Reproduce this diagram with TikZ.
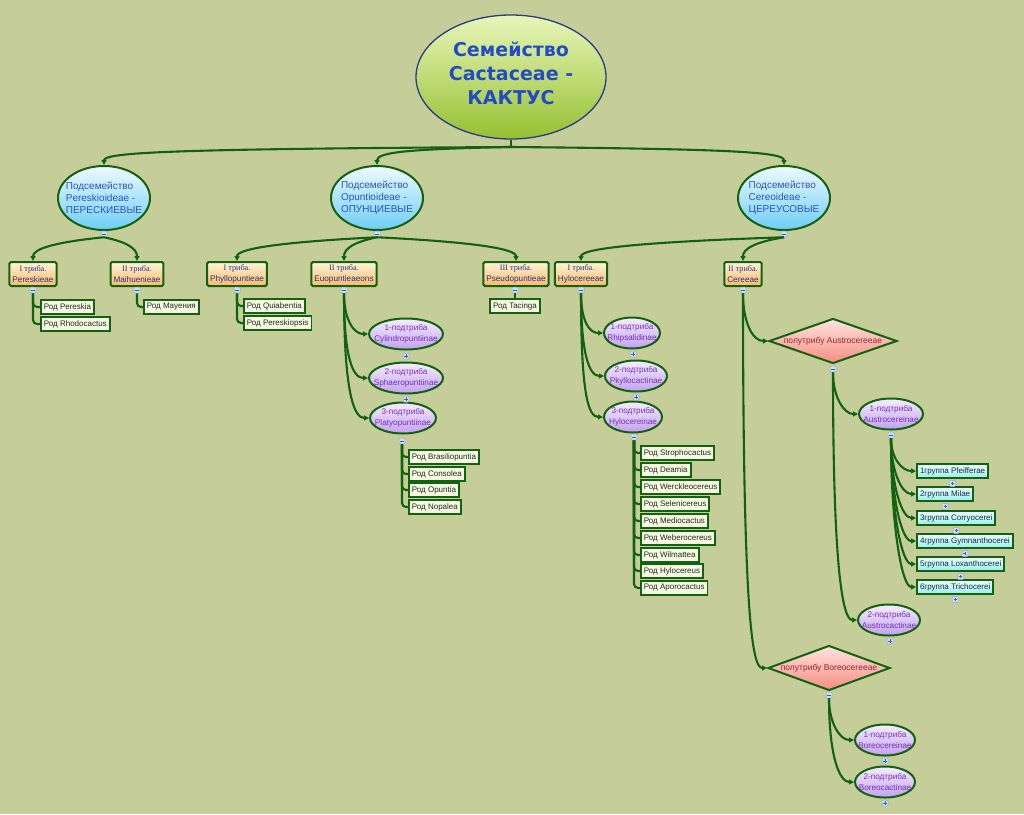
\documentclass[tikz,border=0pt]{standalone}
\usepackage{fontspec}
\setmainfont{Liberation Sans}
\newfontfamily\titlefont{DejaVu Sans}
\newfontfamily\serifL{Liberation Serif}
\usetikzlibrary{shapes.geometric,arrows.meta,calc}
\definecolor{bg}{RGB}{197,206,152}
\definecolor{cg}{RGB}{18,98,18}
\definecolor{rootb}{RGB}{40,60,140}
\definecolor{rootT}{RGB}{232,246,185}
\definecolor{rootB}{RGB}{150,192,50}
\definecolor{titleblue}{RGB}{35,75,195}
\definecolor{sfT}{RGB}{238,250,255}
\definecolor{sfB}{RGB}{110,205,245}
\definecolor{sftext}{RGB}{45,85,185}
\definecolor{trT}{RGB}{255,244,218}
\definecolor{trB}{RGB}{250,185,100}
\definecolor{trtext}{RGB}{40,50,140}
\definecolor{genF}{RGB}{246,250,226}
\definecolor{gentext}{RGB}{35,40,35}
\definecolor{stT}{RGB}{246,238,255}
\definecolor{stB}{RGB}{195,160,240}
\definecolor{sttext}{RGB}{115,50,175}
\definecolor{gT}{RGB}{238,255,255}
\definecolor{gB}{RGB}{150,240,235}
\definecolor{gtext}{RGB}{25,40,70}
\definecolor{dT}{RGB}{255,228,222}
\definecolor{dB}{RGB}{245,140,130}
\definecolor{dtext}{RGB}{150,40,50}
\definecolor{togB}{RGB}{140,170,215}
\definecolor{togF}{RGB}{205,222,245}
\definecolor{togM}{RGB}{70,95,150}
\tikzset{
 every node/.style={inner sep=0pt},
 conn/.style={draw=cg, line width=2.1pt},
 arr/.style={conn, -{Triangle[length=5pt,width=5pt]}},
 lnk/.style={conn, rounded corners=4pt},
 rootn/.style={ellipse, draw=rootb, line width=1.3pt, top color=rootT, bottom color=rootB, minimum width=190pt, minimum height=124pt},
 rootlab/.style={font=\titlefont\bfseries\fontsize{19}{24}\selectfont, text=titleblue, align=center},
 sfam/.style={ellipse, draw=cg, line width=2pt, top color=sfT, bottom color=sfB, minimum width=92pt, minimum height=64pt},
 sflab/.style={font=\fontsize{10}{12}\selectfont, text=sftext, align=left},
 tribe/.style={rectangle, rounded corners=1.5pt, draw=cg, line width=2pt, top color=trT, bottom color=trB, inner xsep=3pt, minimum height=24pt, align=center, font=\fontsize{8.2}{11}\selectfont, text=trtext},
 genus/.style={rectangle, draw=cg, line width=1.8pt, fill=genF, inner xsep=3pt, minimum height=14pt, anchor=west, font=\fontsize{8}{10}\selectfont, text=gentext},
 subtr/.style={ellipse, draw=cg, line width=2pt, top color=stT, bottom color=stB, minimum height=31pt},
 stlab/.style={font=\fontsize{8.2}{10.5}\selectfont, text=sttext, align=center},
 grp/.style={rectangle, draw=cg, line width=2pt, top color=gT, bottom color=gB, inner xsep=3pt, minimum height=14pt, anchor=west, font=\fontsize{8}{10}\selectfont, text=gtext},
 dmd/.style={diamond, draw=cg, line width=2pt, top color=dT, bottom color=dB, minimum height=45pt},
 dlab/.style={font=\fontsize{8.5}{10}\selectfont, text=dtext},
 tog/.style={rectangle, rounded corners=1pt, draw=togB, fill=togF, line width=0.5pt, minimum size=6pt},
 tminus/.style={tog, path picture={\draw[line width=0.6pt, togM] ([xshift=1.4pt]path picture bounding box.west) -- ([xshift=-1.4pt]path picture bounding box.east);}},
 tplus/.style={tog, path picture={\draw[line width=0.6pt, togM] ([xshift=1.4pt]path picture bounding box.west) -- ([xshift=-1.4pt]path picture bounding box.east) ([yshift=-1.4pt]path picture bounding box.north) -- ([yshift=1.4pt]path picture bounding box.south);}},
}
\begin{document}
\begin{tikzpicture}[x=1pt,y=-1pt]
\useasboundingbox (0,0) rectangle (1024,814);
\fill[bg] (0,0) rectangle (1024,814);

% root
\node[rootn, label={[rootlab,yshift=4pt]center:Семейство\\Cactaceae -\\КАКТУС}] (root) at (511,77) {};

% subfamilies
\node[sfam, label={[sflab]center:Подсемейство\\Pereskioideae -\\ПЕРЕСКИЕВЫЕ}] (sf1) at (104,198) {};
\node[sfam, label={[sflab]center:Подсемейство\\Opuntioideae -\\ОПУНЦИЕВЫЕ}] (sf2) at (377,198) {};
\node[sfam, label={[sflab]center:Подсемейство\\Cereoideae -\\ЦЕРЕУСОВЫЕ}] (sf3) at (784,198) {};
\node[tminus] (sf1t) at (104,234) {};
\node[tminus] (sf2t) at (377,234) {};
\node[tminus] (sf3t) at (784,234) {};

% tribes
\node[tribe] (tr1) at (33,274) {{\serifL I триба.}\\Pereskieae};
\node[tribe] (tr2) at (137,274) {{\serifL II триба.}\\Maihuenieae};
\node[tribe] (tr3) at (237,274) {{\serifL I триба.}\\Phyllopuntieae};
\node[tribe] (tr4) at (344,274) {{\serifL II триба.}\\Euopuntieaeons};
\node[tribe] (tr5) at (516,274) {{\serifL III триба.}\\Pseudopuntieae};
\node[tribe] (tr6) at (581,274) {{\serifL I триба.}\\Hylocereeae};
\node[tribe] (tr7) at (743,274) {{\serifL II триба.}\\Cereeae};
\node[tminus] (tr1t) at (33,290) {};
\node[tminus] (tr2t) at (137,290) {};
\node[tminus] (tr3t) at (237,290) {};
\node[tminus] (tr4t) at (344,290) {};
\node[tminus] (tr5t) at (515,290) {};
\node[tminus] (tr6t) at (581,290) {};
\node[tminus] (tr7t) at (743,290) {};

% genera (upper)
\node[genus] (ge1) at (40,307) {Род Pereskia};
\node[genus] (ge2) at (40,324) {Род Rhodocactus};
\node[genus] (ge3) at (143,307) {Род Mayения};
\node[genus] (ge4) at (243,306) {Род Quiabentia};
\node[genus] (ge5) at (243,323) {Род Pereskiopsis};
\node[genus, anchor=center] (ge6) at (515,306) {Род Tacinga};

% subtribes
\node[subtr, minimum width=74pt, label={[stlab]center:1-подтриба\\Cylindropuntiinae}] (st1) at (406,334) {};
\node[subtr, minimum width=74pt, label={[stlab]center:2-подтриба\\Sphaeropuntiinae}] (st2) at (406,378) {};
\node[subtr, minimum width=66pt, label={[stlab]center:3-подтриба\\Platyopuntiinae}] (st3) at (403,418) {};
\node[tplus] (st1t) at (406,356) {};
\node[tplus] (st2t) at (406,399) {};
\node[tminus] (st3t) at (402,441) {};

\node[subtr, minimum width=56pt, label={[stlab]center:1-подтриба\\Rhipsalidinae}] (st4) at (632,333) {};
\node[subtr, minimum width=62pt, label={[stlab]center:2-подтриба\\Pkyllocactinae}] (st5) at (636,376) {};
\node[subtr, minimum width=58pt, label={[stlab]center:3-подтриба\\Hylocereinae}] (st6) at (633,417) {};
\node[tplus] (st4t) at (633,354) {};
\node[tplus] (st5t) at (636,397) {};
\node[tminus] (st6t) at (634,437) {};

% Platyopuntiinae genera
\node[genus] (pg1) at (408,457) {Род Brasiliopuntia};
\node[genus] (pg2) at (408,474) {Род Consolea};
\node[genus] (pg3) at (408,490) {Род Opuntia};
\node[genus] (pg4) at (408,507) {Род Nopalea};

% Hylocereinae genera
\node[genus] (hg1) at (640,453) {Род Strophocactus};
\node[genus] (hg2) at (640,470) {Род Deamia};
\node[genus] (hg3) at (640,487) {Род Werckleocereus};
\node[genus] (hg4) at (640,504) {Род Selenicereus};
\node[genus] (hg5) at (640,521) {Род Mediocactus};
\node[genus] (hg6) at (640,538) {Род Weberocereus};
\node[genus] (hg7) at (640,555) {Род Wilmattea};
\node[genus] (hg8) at (640,571) {Род Hylocereus};
\node[genus] (hg9) at (640,588) {Род Aporocactus};

% diamonds
\node[dmd, minimum width=128pt, label={[dlab]center:полутрибу Austrocereeae}] (d1) at (833,341) {};
\node[dmd, minimum width=122pt, label={[dlab]center:полутрибу Boreocereeae}] (d2) at (829,668) {};
\node[tminus] (d1t) at (833,369) {};
\node[tminus] (d2t) at (829,695) {};

\node[subtr, minimum width=64pt, label={[stlab]center:1-подтриба\\Austrocereinae}] (st7) at (891,414) {};
\node[subtr, minimum width=62pt, label={[stlab]center:2-подтриба\\Austrocactinae}] (st8) at (889,620) {};
\node[tminus] (st7t) at (891,435) {};
\node[tplus] (st8t) at (890,641) {};

\node[subtr, minimum width=60pt, label={[stlab]center:1-подтриба\\Boreocereinae}] (st9) at (885,740) {};
\node[subtr, minimum width=60pt, label={[stlab]center:2-подтриба\\Boreocactinae}] (st10) at (885,782) {};
\node[tplus] (st9t) at (885,761) {};
\node[tplus] (st10t) at (885,803) {};

% groups
\node[grp] (g1) at (916,471) {1группа Pfeifferae};
\node[grp] (g2) at (916,494) {2группа Milae};
\node[grp] (g3) at (916,518) {3группа Corryocerei};
\node[grp] (g4) at (916,541) {4группа Gymnanthocerei};
\node[grp] (g5) at (916,564) {5группа Loxanthocerei};
\node[grp] (g6) at (916,587) {6группа Trichocerei};
\node[tplus] (g1t) at ($(g1.south)+(0,4.5)$) {};
\node[tplus] (g2t) at ($(g2.south)+(0,4.5)$) {};
\node[tplus] (g3t) at ($(g3.south)+(0,4.5)$) {};
\node[tplus] (g4t) at ($(g4.south)+(0,4.5)$) {};
\node[tplus] (g5t) at ($(g5.south)+(0,4.5)$) {};
\node[tplus] (g6t) at ($(g6.south)+(0,4.5)$) {};

% ---------- connectors ----------
\coordinate (r0) at (511,147);
\draw[conn] (root.south) -- (r0);
\draw[arr] (r0) .. controls +(-330,2) and +(0,-13) .. (sf1.north);
\draw[arr] (r0) .. controls +(-100,2) and +(0,-13) .. (sf2.north);
\draw[arr] (r0) .. controls +(220,2) and +(0,-13) .. (sf3.north);

\draw[arr] (sf1t.south) .. controls +(-50,5) and +(0,-12) .. (tr1.north);
\draw[arr] (sf1t.south) .. controls +(24,5) and +(0,-12) .. (tr2.north);
\draw[arr] (sf2t.south) .. controls +(-100,5) and +(0,-12) .. (tr3.north);
\draw[arr] (sf2t.south) .. controls +(-24,5) and +(0,-12) .. (tr4.north);
\draw[arr] (sf2t.south) .. controls +(100,5) and +(0,-12) .. (tr5.north);
\draw[arr] (sf3t.south) .. controls +(-150,5) and +(0,-12) .. (tr6.north);
\draw[arr] (sf3t.south) .. controls +(-30,5) and +(0,-12) .. (tr7.north);

\draw[lnk] (tr1t.south) |- (ge1.west);
\draw[lnk] (tr1t.south) |- (ge2.west);
\draw[lnk] (tr2t.south) |- (ge3.west);
\draw[lnk] (tr3t.south) |- (ge4.west);
\draw[lnk] (tr3t.south) |- (ge5.west);
\draw[conn] (tr5t.south) -- (ge6.north);

\draw[arr] (tr4t.south) .. controls +(0,25) and +(-15,0) .. (st1.west);
\draw[arr] (tr4t.south) .. controls +(0,65) and +(-15,0) .. (st2.west);
\draw[arr] (tr4t.south) .. controls +(0,100) and +(-15,0) .. (st3.west);
\draw[arr] (tr6t.south) .. controls +(0,25) and +(-15,0) .. (st4.west);
\draw[arr] (tr6t.south) .. controls +(0,60) and +(-15,0) .. (st5.west);
\draw[arr] (tr6t.south) .. controls +(0,100) and +(-15,0) .. (st6.west);

\draw[lnk] (st3t.south) |- (pg1.west);
\draw[lnk] (st3t.south) |- (pg2.west);
\draw[lnk] (st3t.south) |- (pg3.west);
\draw[lnk] (st3t.south) |- (pg4.west);

\draw[lnk] (st6t.south) |- (hg1.west);
\draw[lnk] (st6t.south) |- (hg2.west);
\draw[lnk] (st6t.south) |- (hg3.west);
\draw[lnk] (st6t.south) |- (hg4.west);
\draw[lnk] (st6t.south) |- (hg5.west);
\draw[lnk] (st6t.south) |- (hg6.west);
\draw[lnk] (st6t.south) |- (hg7.west);
\draw[lnk] (st6t.south) |- (hg8.west);
\draw[lnk] (st6t.south) |- (hg9.west);

\draw[arr] (tr7t.south) .. controls +(0,30) and +(-15,0) .. (d1.west);
\draw[arr] (tr7t.south) .. controls +(0,320) and +(-15,0) .. (d2.west);

\draw[arr] (d1t.south) .. controls +(0,25) and +(-14,0) .. (st7.west);
\draw[arr] (d1t.south) .. controls +(0,200) and +(-14,0) .. (st8.west);
\draw[arr] (d2t.south) .. controls +(0,25) and +(-14,0) .. (st9.west);
\draw[arr] (d2t.south) .. controls +(0,60) and +(-14,0) .. (st10.west);

\draw[arr] (st7t.south) .. controls +(0,20) and +(-14,0) .. (g1.west);
\draw[arr] (st7t.south) .. controls +(0,34) and +(-14,0) .. (g2.west);
\draw[arr] (st7t.south) .. controls +(0,48) and +(-14,0) .. (g3.west);
\draw[arr] (st7t.south) .. controls +(0,61) and +(-14,0) .. (g4.west);
\draw[arr] (st7t.south) .. controls +(0,75) and +(-14,0) .. (g5.west);
\draw[arr] (st7t.south) .. controls +(0,89) and +(-14,0) .. (g6.west);
\end{tikzpicture}
\end{document}
